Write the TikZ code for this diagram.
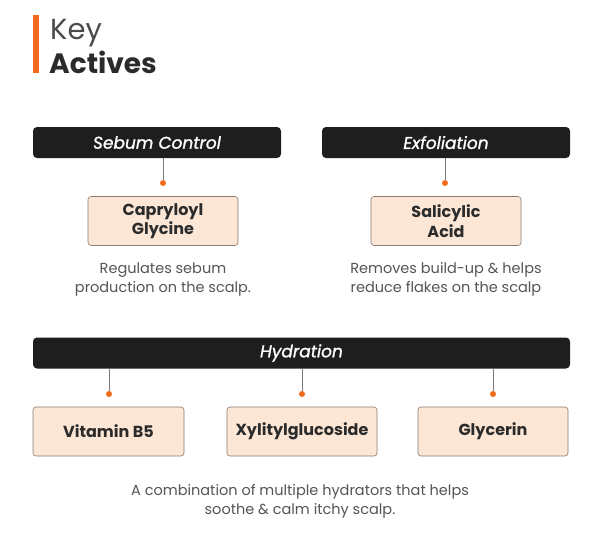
\documentclass[tikz,border=0pt]{standalone}
\usepackage{fontspec}
\setmainfont{Poppins}
\newfontfamily\barfont[FakeBold=1.2]{Poppins}
\usepackage{tikz}
\usetikzlibrary{positioning}
\usepackage{xcolor}

\definecolor{barblack}{HTML}{1E1E1E}
\definecolor{keyorange}{HTML}{F26A1B}
\definecolor{peach}{HTML}{FCE7D7}
\definecolor{peachline}{HTML}{8C7B70}
\definecolor{stemgray}{HTML}{7A7A7A}
\definecolor{textgray}{HTML}{555555}
\definecolor{titlegray}{HTML}{2B2B2B}

\tikzset{
  groupbar/.style={fill=barblack, rounded corners=4pt, text=white, inner sep=0pt,
    minimum height=31pt, font=\fontsize{17}{20}\selectfont\barfont\itshape},
  activebox/.style={fill=peach, draw=peachline, line width=0.6pt, rounded corners=3pt,
    minimum width=150pt, minimum height=49pt, align=center, inner sep=0pt,
    text=titlegray, font=\fontsize{16}{18}\selectfont\bfseries},
  blurb/.style={align=center, text=textgray, inner sep=0pt,
    font=\fontsize{14.5}{19}\selectfont},
  stem/.style={draw=stemgray, line width=0.7pt},
  dot/.style={circle, fill=keyorange, inner sep=0pt, minimum size=6pt}
}

\begin{document}
\begin{tikzpicture}[x=1pt, y=-1pt]
    \useasboundingbox[fill=white] (0,0) rectangle (600,549);

    % title
    \fill[keyorange] (33,15) rectangle (38.5,73);
    \node[anchor=base west, inner sep=0pt, text=titlegray!85, font=\fontsize{29}{30}\selectfont] (key) at (50,39) {Key};
    \node[anchor=base west, inner sep=0pt, text=titlegray, font=\fontsize{28}{30}\selectfont\bfseries] (actives) at (49,73) {Actives};

    % group bars
    \node[groupbar, minimum width=248pt] (sebum) at (157,142.5) {Sebum Control};
    \node[groupbar, minimum width=248pt] (exfol) at (446,142.5) {Exfoliation};
    \node[groupbar, minimum width=537pt] (hydra) at (301.5,353) {Hydration};

    % dots
    \node[dot] (dsebum) at (163,183) {};
    \node[dot] (dexfol) at (445,183) {};
    \node[dot] (dvit) at (109,394) {};
    \node[dot] (dxyl) at (302,394) {};
    \node[dot] (dgly) at (493,394) {};

    % stems
    \draw[stem] (sebum.south -| dsebum) -- (dsebum);
    \draw[stem] (exfol.south -| dexfol) -- (dexfol);
    \draw[stem] (hydra.south -| dvit) -- (dvit);
    \draw[stem] (hydra.south -| dxyl) -- (dxyl);
    \draw[stem] (hydra.south -| dgly) -- (dgly);

    % actives
    \node[activebox] (capry) at (163,221) {Capryloyl\\[1.5pt]Glycine};
    \node[activebox] (salic) at (446,221) {Salicylic\\[1.5pt]Acid};
    \node[activebox, minimum width=151pt] (vitb) at (108.5,431.5) {Vitamin B5};
    \node[activebox] (xylit) at (302,431.5) {Xylitylglucoside};
    \node[activebox] (glyc) at (493,431.5) {Glycerin};

    % descriptions
    \node[blurb] (dcapry) at (163,279.5) {Regulates sebum\\production on the scalp.};
    \node[blurb] (dsalic) at (446,279.5) {Removes build-up \& helps\\reduce flakes on the scalp};
    \node[blurb] (dhydra) at (300,501.5) {A combination of multiple hydrators that helps\\soothe \& calm itchy scalp.};
\end{tikzpicture}
\end{document}
